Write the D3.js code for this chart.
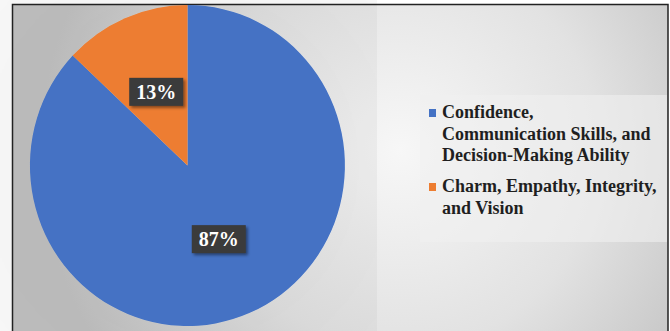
<!DOCTYPE html>
<html><head><meta charset="utf-8">
<script src="https://cdn.jsdelivr.net/npm/d3@7"></script>
<style>html,body{margin:0;padding:0;background:#fff;}svg{display:block;}
.serif{font-family:"Liberation Serif","Times New Roman",Times,serif;font-weight:bold;}</style>
</head><body>
<script>
const categories = ["Confidence, Communication Skills, and Decision-Making Ability", "Charm, Empathy, Integrity, and Vision"];
const legendLines = [["Confidence,", "Communication Skills, and", "Decision-Making Ability"], ["Charm, Empathy, Integrity,", "and Vision"]];
const values = [87, 13];
const colors = ["#4472C4", "#ED7D31"];

const W = 670, H = 331;
const svg = d3.select("body").append("svg").attr("width", W).attr("height", H);
const defs = svg.append("defs");
const rg = defs.append("radialGradient").attr("id", "bg").attr("gradientUnits", "userSpaceOnUse")
  .attr("cx", 400).attr("cy", 150).attr("r", 360);
rg.append("stop").attr("offset", "0").attr("stop-color", "#f7f7f7");
rg.append("stop").attr("offset", "0.55").attr("stop-color", "#e2e2e2");
rg.append("stop").attr("offset", "1").attr("stop-color", "#c2c2c2");
const sh = defs.append("filter").attr("id", "sh").attr("x", "-30%").attr("y", "-30%").attr("width", "160%").attr("height", "160%");
sh.append("feDropShadow").attr("dx", 2).attr("dy", 2).attr("stdDeviation", 1.5).attr("flood-color", "#000").attr("flood-opacity", 0.45);
const psh = defs.append("filter").attr("id", "psh").attr("x", "-10%").attr("y", "-10%").attr("width", "120%").attr("height", "120%");
psh.append("feDropShadow").attr("dx", 0).attr("dy", 0).attr("stdDeviation", 1.5).attr("flood-color", "#000").attr("flood-opacity", 0.25);

// background + frame
svg.append("rect").attr("x", 12.5).attr("y", 4.5).attr("width", 655.5).attr("height", 340)
  .attr("fill", "url(#bg)").attr("stroke", "#222").attr("stroke-width", 1.5);

// pie
const cx = 187.5, cy = 165.5, rx = 157.5, ry = 160.5;
const pie = d3.pie().sort(null).value(d => d);
const arcs = pie(values);
const arc = d3.arc().innerRadius(0).outerRadius(1);
const g = svg.append("g").attr("transform", `translate(${cx},${cy})`);
const pg = g.append("g").attr("transform", `scale(${rx},${ry})`).attr("filter", "url(#psh)");
pg.selectAll("path").data(arcs).join("path")
  .attr("d", arc).attr("fill", (d, i) => colors[i]);

// data labels
const lab = g.selectAll("g.lab").data(arcs).join("g").attr("class", "lab")
  .attr("transform", d => { const c = arc.centroid(d); return `translate(${c[0]*rx},${c[1]*ry})`; });
lab.append("rect").attr("x", -27).attr("y", -14).attr("width", 54).attr("height", 28)
  .attr("fill", "#3a3a3a").attr("filter", "url(#sh)");
lab.append("text").attr("class", "serif").attr("text-anchor", "middle").attr("dy", "0.35em")
  .attr("font-size", 20).attr("fill", "#fff")
  .text((d, i) => d3.format(".0%")(values[i] / d3.sum(values)));

// legend
svg.append("rect").attr("x", 420).attr("y", 95).attr("width", 247).attr("height", 147)
  .attr("fill", "#f0f0f0").attr("opacity", 0.6);
const lineH = 21.5;
const legStart = [118, 192];
const lg = svg.append("g");
categories.forEach((c, i) => {
  const y0 = legStart[i];
  lg.append("rect").attr("x", 429).attr("y", y0 - 9).attr("width", 7).attr("height", 8).attr("fill", colors[i]);
  const t = lg.append("text").attr("class", "serif").attr("x", 442).attr("y", y0)
    .attr("font-size", 18).attr("fill", "#1f1f1f");
  legendLines[i].forEach((ln, j) => {
    t.append("tspan").attr("x", 442).attr("y", y0 + j * lineH).text(ln);
  });
});
</script>
</body></html>
